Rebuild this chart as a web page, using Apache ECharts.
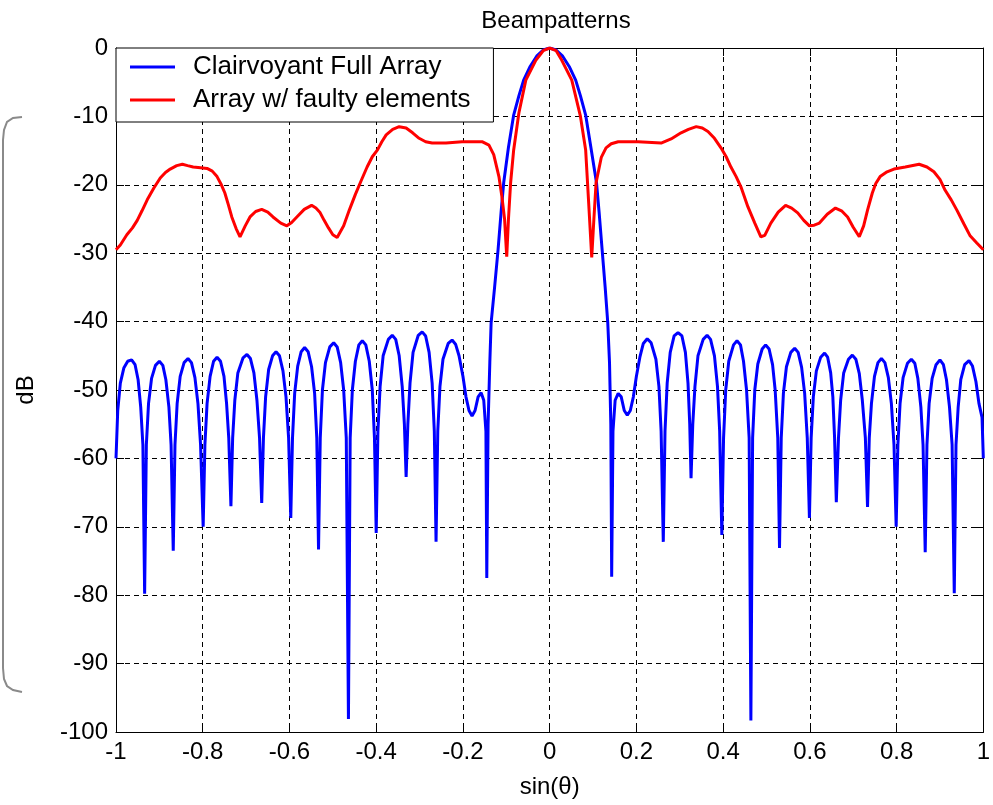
<!DOCTYPE html>
<html>
<head>
<meta charset="utf-8">
<script src="https://cdn.jsdelivr.net/npm/echarts@6/dist/echarts.min.js"></script>
<style>
html,body{margin:0;padding:0;background:#fff;}
#chart{width:993px;height:805px;}
</style>
</head>
<body>
<div id="chart"></div>
<script>
// ---- data ----
const titleText = 'Beampatterns';
const seriesNames = ['Clairvoyant Full Array', 'Array w/ faulty elements'];
const xTickLabels = ['-1','-0.8','-0.6','-0.4','-0.2','0','0.2','0.4','0.6','0.8','1'];
const yTickLabels = ['-100','-90','-80','-70','-60','-50','-40','-30','-20','-10','0'];

// Clairvoyant Full Array: [sin(theta), dB]
const blueData = [
[-1.000,-60],[-0.996,-53],[-0.990,-49],[-0.982,-46.8],[-0.973,-45.8],[-0.964,-45.6],[-0.956,-46.3],[-0.949,-48.5],[-0.943,-52.5],[-0.938,-58],[-0.934,-79.8],
[-0.930,-58],[-0.925,-52],[-0.918,-48.3],[-0.909,-46.4],[-0.900,-45.8],[-0.892,-46.4],[-0.885,-48.5],[-0.878,-52.5],[-0.873,-58],[-0.868,-73.5],
[-0.864,-58],[-0.859,-52],[-0.852,-48],[-0.843,-46],[-0.834,-45.4],[-0.826,-46],[-0.818,-48.2],[-0.811,-52],[-0.805,-58],[-0.799,-70],
[-0.795,-58],[-0.790,-52],[-0.783,-48],[-0.775,-45.8],[-0.767,-45.2],[-0.759,-45.8],[-0.751,-48],[-0.745,-52],[-0.740,-57],[-0.735,-67],
[-0.731,-57],[-0.726,-51.5],[-0.719,-47.5],[-0.707,-45.3],[-0.698,-44.8],[-0.690,-45.4],[-0.682,-47.5],[-0.675,-51.5],[-0.669,-57],[-0.664,-66.5],
[-0.660,-57],[-0.655,-51],[-0.648,-47],[-0.639,-45],[-0.631,-44.4],[-0.623,-45],[-0.615,-47.2],[-0.608,-51],[-0.602,-57],[-0.597,-68.7],
[-0.593,-57],[-0.588,-50.5],[-0.581,-46.5],[-0.573,-44.4],[-0.565,-43.8],[-0.557,-44.4],[-0.549,-46.6],[-0.542,-50.5],[-0.537,-57],[-0.533,-73.3],
[-0.529,-57],[-0.524,-50],[-0.517,-46],[-0.507,-43.7],[-0.498,-43.1],[-0.490,-43.7],[-0.482,-46],[-0.475,-50],[-0.469,-57],[-0.464,-98.1],
[-0.460,-57],[-0.455,-50],[-0.448,-45.8],[-0.440,-43.4],[-0.432,-42.8],[-0.424,-43.4],[-0.416,-45.8],[-0.409,-50],[-0.404,-57],[-0.400,-70.9],
[-0.396,-56],[-0.391,-49.5],[-0.384,-45],[-0.372,-42.6],[-0.363,-42.0],[-0.355,-42.6],[-0.347,-45],[-0.340,-49.5],[-0.335,-55],[-0.331,-62.7],
[-0.327,-55],[-0.322,-49],[-0.315,-44.5],[-0.303,-42],[-0.294,-41.5],[-0.286,-42.1],[-0.278,-44.5],[-0.271,-49],[-0.266,-56],[-0.262,-72.2],
[-0.258,-56],[-0.253,-49.5],[-0.246,-45.5],[-0.234,-43.2],[-0.225,-42.7],[-0.217,-43.3],[-0.209,-45],[-0.200,-48],[-0.193,-51],[-0.186,-53],[-0.179,-53.8],[-0.172,-53],[-0.165,-51],[-0.158,-50.4],[-0.152,-51.5],[-0.147,-56],[-0.145,-77.5],
[-0.142,-55],[-0.138,-46],[-0.135,-40.2],[-0.127,-35],[-0.119,-29.5],[-0.112,-24],[-0.106,-19.7],[-0.095,-14.5],[-0.083,-9.8],[-0.071,-7],[-0.060,-4.7],[-0.045,-2.7],[-0.030,-1.2],[-0.015,-0.3],[0,0],
[0.015,-0.3],[0.030,-1.2],[0.045,-2.7],[0.060,-4.7],[0.071,-7],[0.083,-9.8],[0.095,-14.5],[0.108,-19.7],[0.114,-24],[0.121,-29.5],[0.128,-35],[0.134,-40.2],[0.138,-46],[0.141,-55],[0.143,-77.3],
[0.146,-56],[0.151,-51.5],[0.158,-50.5],[0.165,-51],[0.172,-53],[0.179,-53.7],[0.186,-53],[0.193,-51],[0.200,-48],[0.208,-45.2],[0.216,-43.2],[0.225,-42.5],[0.234,-43.1],[0.245,-45.5],[0.252,-49.5],[0.257,-56],[0.262,-72.2],
[0.266,-56],[0.271,-49],[0.278,-44.5],[0.287,-42.1],[0.296,-41.6],[0.305,-42.1],[0.313,-44.5],[0.319,-49],[0.323,-55],[0.326,-62.9],
[0.330,-55],[0.335,-49.5],[0.342,-45],[0.354,-42.6],[0.363,-42],[0.371,-42.6],[0.380,-45],[0.387,-49.5],[0.392,-56],[0.397,-71.2],
[0.401,-57],[0.406,-50],[0.413,-45.8],[0.424,-43.4],[0.432,-42.8],[0.440,-43.4],[0.447,-45.8],[0.454,-50],[0.460,-57],[0.464,-98.3],
[0.468,-57],[0.473,-50],[0.480,-46.2],[0.490,-44],[0.498,-43.4],[0.506,-44],[0.514,-46.3],[0.520,-50],[0.526,-57],[0.530,-73.1],
[0.534,-57],[0.539,-50.5],[0.546,-46.6],[0.556,-44.5],[0.565,-43.9],[0.573,-44.5],[0.581,-46.7],[0.588,-50.5],[0.594,-57],[0.599,-68.7],
[0.603,-57],[0.608,-51],[0.615,-47.2],[0.625,-45.2],[0.634,-44.6],[0.641,-45.2],[0.648,-47.5],[0.653,-51],[0.657,-57],[0.661,-66.4],
[0.666,-57],[0.671,-51.5],[0.678,-47.5],[0.689,-45.5],[0.698,-44.9],[0.706,-45.5],[0.714,-47.6],[0.721,-51.5],[0.728,-57],[0.733,-67.1],
[0.737,-57],[0.742,-52],[0.749,-48],[0.757,-46],[0.765,-45.4],[0.773,-46],[0.781,-48.2],[0.788,-52],[0.794,-58],[0.799,-70],
[0.803,-58],[0.808,-52],[0.815,-48.2],[0.825,-46.1],[0.834,-45.5],[0.842,-46.1],[0.849,-48.3],[0.856,-52.5],[0.861,-58],[0.866,-73.7],
[0.870,-58],[0.875,-52],[0.882,-48.3],[0.891,-46.3],[0.900,-45.6],[0.908,-46.3],[0.915,-48.5],[0.922,-52.5],[0.928,-58],[0.933,-79.7],
[0.937,-58],[0.942,-52.5],[0.948,-48.5],[0.957,-46.3],[0.967,-45.7],[0.975,-46.5],[0.983,-48.8],[0.990,-52],[0.997,-54],[1.000,-60]
];

// Array w/ faulty elements: [sin(theta), dB]
const redData = [
[-1.000,-29.5],[-0.990,-28.8],[-0.975,-27.3],[-0.962,-26.3],[-0.951,-25.2],[-0.940,-23.8],[-0.928,-22.2],[-0.913,-20.5],[-0.898,-19.0],[-0.886,-18.2],[-0.875,-17.7],[-0.860,-17.2],[-0.847,-17.0],[-0.835,-17.2],[-0.822,-17.4],[-0.805,-17.5],[-0.790,-17.6],[-0.778,-18.0],[-0.767,-18.8],[-0.757,-20.0],[-0.749,-21.2],[-0.741,-22.9],[-0.733,-24.7],[-0.723,-26.4],[-0.714,-27.6],[-0.702,-26.0],[-0.691,-24.7],[-0.678,-23.9],[-0.664,-23.6],[-0.650,-24.0],[-0.638,-24.7],[-0.620,-25.6],[-0.606,-26.0],[-0.595,-25.5],[-0.583,-24.7],[-0.566,-23.6],[-0.549,-23.0],[-0.539,-23.4],[-0.530,-24.0],[-0.520,-25.2],[-0.510,-26.3],[-0.500,-27.3],[-0.490,-27.7],[-0.475,-26.0],[-0.462,-23.7],[-0.448,-21.4],[-0.434,-19.3],[-0.421,-17.4],[-0.409,-15.9],[-0.397,-14.9],[-0.387,-13.7],[-0.377,-12.7],[-0.362,-11.9],[-0.347,-11.5],[-0.331,-11.7],[-0.316,-12.4],[-0.301,-13.2],[-0.286,-13.7],[-0.271,-13.9],[-0.239,-13.9],[-0.202,-13.7],[-0.156,-13.7],[-0.140,-14.2],[-0.129,-15.6],[-0.117,-18.8],[-0.110,-21.8],[-0.104,-25],[-0.099,-30.5],[-0.095,-25],[-0.090,-19.7],[-0.083,-14.9],[-0.071,-9.5],[-0.055,-4.7],[-0.032,-1.8],[-0.015,-0.4],[0,0],
[0.015,-0.4],[0.028,-1.8],[0.051,-4.7],[0.071,-10],[0.083,-14.9],[0.090,-22.7],[0.097,-30.6],[0.102,-25],[0.107,-19.7],[0.119,-16],[0.130,-14.6],[0.142,-14],[0.158,-13.7],[0.204,-13.7],[0.257,-13.9],[0.280,-13.3],[0.303,-12.4],[0.320,-11.9],[0.338,-11.5],[0.352,-11.7],[0.365,-12.2],[0.380,-13.2],[0.395,-14.6],[0.407,-15.9],[0.418,-17.4],[0.430,-18.8],[0.441,-20.3],[0.457,-23.2],[0.473,-25.6],[0.487,-27.6],[0.496,-27.4],[0.510,-25.6],[0.527,-24.0],[0.544,-23.0],[0.558,-23.4],[0.572,-24.1],[0.586,-25.2],[0.599,-26.0],[0.610,-25.9],[0.622,-25.6],[0.640,-24.3],[0.659,-23.4],[0.673,-23.8],[0.687,-24.7],[0.700,-26.2],[0.714,-27.6],[0.724,-26.0],[0.733,-23.7],[0.744,-21.2],[0.752,-19.8],[0.762,-18.8],[0.778,-18.1],[0.794,-17.7],[0.820,-17.4],[0.852,-17.0],[0.870,-17.4],[0.886,-18.1],[0.900,-19.2],[0.912,-20.8],[0.926,-22.2],[0.939,-23.7],[0.955,-25.7],[0.969,-27.4],[0.985,-28.5],[1.000,-29.5]
];

const xAxisName = 'sin(θ)';
const yAxisName = 'dB';

// ---- chart ----
const FONT = 'Liberation Sans, Arial, sans-serif';
const chart = echarts.init(document.getElementById('chart'), null, {renderer: 'canvas'});

function xLabel(v) { return xTickLabels[Math.round((v + 1) / 0.2)]; }
function yLabel(v) { return yTickLabels[Math.round((v + 100) / 10)]; }

const gridLine = {show: true, lineStyle: {color: '#000', width: 1, type: [5, 4]}};
const axisLine = {show: true, onZero: false, lineStyle: {color: '#000', width: 1}};
const tick = {show: true, inside: true, length: 8, lineStyle: {color: '#000', width: 1}};

chart.setOption({
  backgroundColor: '#fff',
  animation: false,
  title: {
    text: titleText,
    left: 551, top: 4, textAlign: 'center',
    textStyle: {fontFamily: FONT, fontSize: 24, fontWeight: 'normal', color: '#000'}
  },
  legend: {
    orient: 'vertical',
    left: 116, top: 48,
    padding: [4, 23, 7, 14],
    itemGap: 3,
    itemWidth: 45, itemHeight: 3,
    icon: 'rect',
    backgroundColor: '#fff',
    borderColor: '#000', borderWidth: 1,
    textStyle: {fontFamily: FONT, fontSize: 26, color: '#000', lineHeight: 30, padding: [0, 0, 0, 13]},
    data: seriesNames
  },
  grid: {left: 116, right: 6, top: 48, bottom: 73, containLabel: false},
  xAxis: [{
    type: 'value', min: -1, max: 1, interval: 0.2,
    axisLine: axisLine, axisTick: tick, splitLine: gridLine,
    axisLabel: {formatter: xLabel, fontFamily: FONT, fontSize: 24, color: '#000', margin: 8},
    name: xAxisName, nameLocation: 'middle', nameGap: 43,
    nameTextStyle: {fontFamily: FONT, fontSize: 24, color: '#000'}
  }, {
    type: 'value', min: -1, max: 1, interval: 0.2, position: 'top',
    axisLine: axisLine, axisTick: tick, splitLine: {show: false}, axisLabel: {show: false}
  }],
  yAxis: [{
    type: 'value', min: -100, max: 0, interval: 10,
    axisLine: axisLine, axisTick: tick, splitLine: gridLine,
    axisLabel: {formatter: yLabel, fontFamily: FONT, fontSize: 24, color: '#000', margin: 8},
    name: yAxisName, nameLocation: 'middle', nameGap: 78, nameRotate: 90,
    nameTextStyle: {fontFamily: FONT, fontSize: 24, color: '#000'}
  }, {
    type: 'value', min: -100, max: 0, interval: 10, position: 'right',
    axisLine: axisLine, axisTick: tick, splitLine: {show: false}, axisLabel: {show: false}
  }],
  graphic: [{
    type: 'polyline',
    shape: {points: [[22,117],[13,118],[7,122],[4,130],[3,140],[3,668],[4,679],[7,686],[13,690],[22,692]]},
    style: {stroke: '#8a8a8a', lineWidth: 2, fill: null}
  }],
  series: [{
    name: seriesNames[0], type: 'line', data: blueData,
    xAxisIndex: 0, yAxisIndex: 0,
    symbol: 'none', showSymbol: false,
    lineStyle: {color: '#0000ff', width: 3},
    itemStyle: {color: '#0000ff'}
  }, {
    name: seriesNames[1], type: 'line', data: redData,
    xAxisIndex: 0, yAxisIndex: 0,
    symbol: 'none', showSymbol: false,
    lineStyle: {color: '#ff0000', width: 3},
    itemStyle: {color: '#ff0000'}
  }]
});
</script>
</body>
</html>
